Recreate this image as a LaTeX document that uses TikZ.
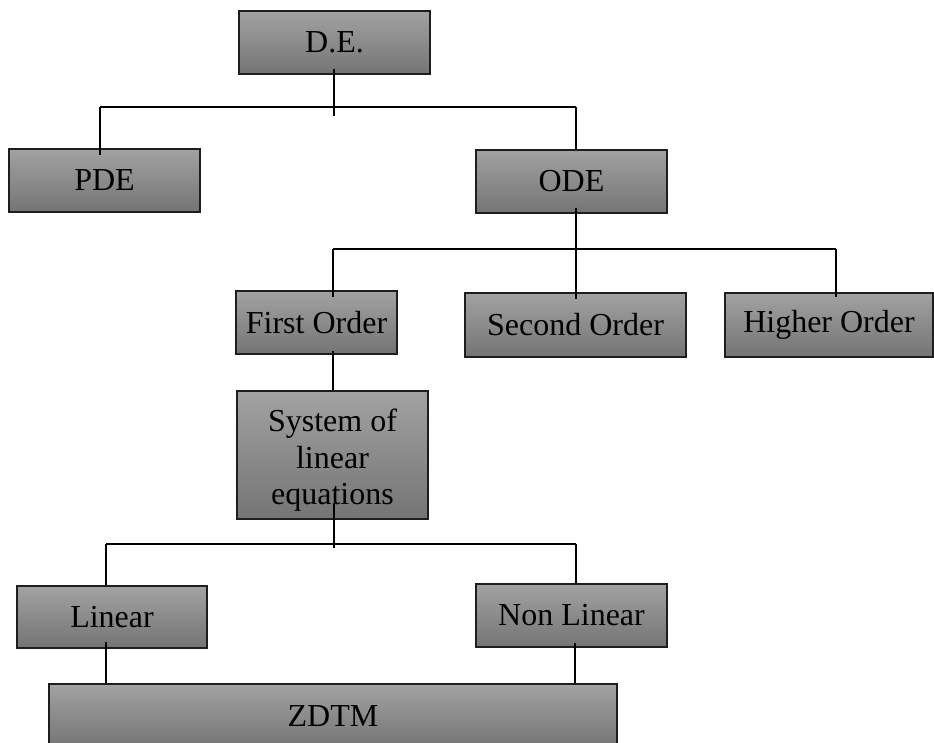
\documentclass[tikz,border=0pt]{standalone}
\usepackage{fontspec}
\setmainfont{Liberation Serif}
\usetikzlibrary{calc}
\definecolor{boxtop}{RGB}{162,162,162}
\definecolor{boxbot}{RGB}{116,116,116}
\definecolor{edge}{RGB}{30,30,30}
\tikzset{
  box/.style={draw=edge, line width=1.3bp, rectangle, top color=boxtop, bottom color=boxbot,
    inner sep=0pt, align=center, font=\fontsize{32bp}{36.5bp}\selectfont},
  sz/.style 2 args={minimum width=#1bp, minimum height=#2bp},
  conn/.style={draw=black, line width=1.3bp}
}
\begin{document}
\begin{tikzpicture}[x=1bp,y=-1bp]
\useasboundingbox (0,0) rectangle (934,743);
\fill[white] (0,0) rectangle (934,743);
% boxes
\node[box, sz={191}{63}] (de) at (334.5,42.5) {D.E.};
\node[box, sz={191}{63}] (pde) at (104.5,180.5) {PDE};
\node[box, sz={191}{63}] (ode) at (571.5,181.5) {ODE};
\node[box, sz={161}{63}] (first) at (316.5,322.5) {First Order};
\node[box, sz={221}{64}] (second) at (575.5,325) {Second Order};
\node[box, sz={208}{64}] (higher) at (829,325) {Higher Order};
\node[box, sz={191}{128}] (sys) at (332.5,455) {\rule{0pt}{33bp}System of\\linear\\equations};
\node[box, sz={190}{62}] (lin) at (112,617) {Linear};
\node[box, sz={191}{63}] (nonlin) at (571.5,615.5) {Non Linear};
\node[box, sz={568}{64}] (zdtm) at (333,716) {ZDTM};
% junction coordinates
\coordinate (j1) at (334,107);
\coordinate (j1l) at (100,107);
\coordinate (j1r) at (576,107);
\coordinate (j2) at (576,249);
\coordinate (j2l) at (333,249);
\coordinate (j2r) at (836,249);
\coordinate (j3) at (334,544);
\coordinate (j3l) at (106,544);
\coordinate (j3r) at (576,544);
% connectors level 1
\draw[conn] ($(j1|-de.south)+(0,-6)$) -- ($(j1)+(0,9)$);
\draw[conn] (j1l) -- (j1r);
\draw[conn] (j1l) -- ($(j1l|-pde.north)+(0,7)$);
\draw[conn] (j1r) -- (j1r|-ode.north);
% connectors level 2
\draw[conn] ($(j2|-ode.south)+(0,-6)$) -- ($(j2)+(0,6)$);
\draw[conn] (j2l) -- (j2r);
\draw[conn] (j2l) -- ($(j2l|-first.north)+(0,7)$);
\draw[conn] (j2) -- ($(j2|-second.north)+(0,7)$);
\draw[conn] (j2r) -- ($(j2r|-higher.north)+(0,5)$);
% first order to system
\draw[conn] ($(j2l|-first.south)+(0,-4)$) -- (j2l|-sys.north);
% connectors level 3
\draw[conn] ($(j3|-sys.south)+(0,-17)$) -- ($(j3)+(0,4)$);
\draw[conn] (j3l) -- (j3r);
\draw[conn] (j3l) -- (j3l|-lin.north);
\draw[conn] (j3r) -- (j3r|-nonlin.north);
% to ZDTM
\draw[conn] ($(j3l|-lin.south)+(0,-7)$) -- (j3l|-zdtm.north);
\coordinate (k) at (575,684);
\draw[conn] ($(k|-nonlin.south)+(0,-5)$) -- (k|-zdtm.north);
\end{tikzpicture}
\end{document}
